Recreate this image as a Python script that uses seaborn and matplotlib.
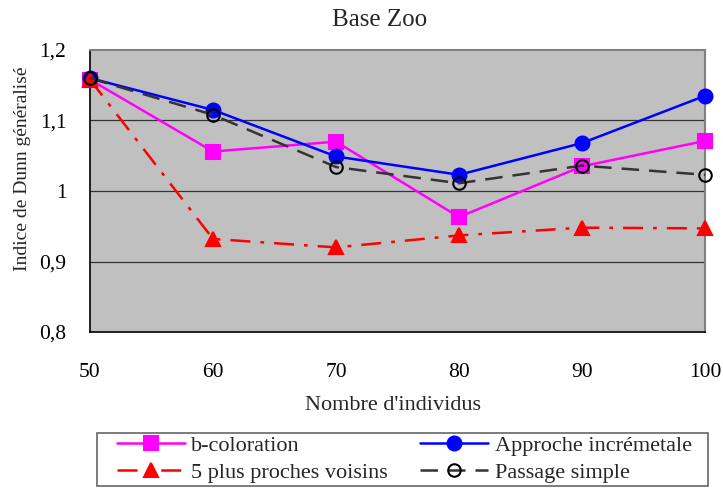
import matplotlib
matplotlib.use("Agg")
import matplotlib.pyplot as plt
from matplotlib.patches import Rectangle
import seaborn as sns
import pandas as pd

x_vals = [50, 60, 70, 80, 90, 100]
b_coloration = [1.158, 1.056, 1.070, 0.963, 1.035, 1.071]
approche = [1.160, 1.115, 1.049, 1.023, 1.068, 1.135]
plus_proches = [1.158, 0.932, 0.920, 0.937, 0.948, 0.947]
passage = [1.160, 1.108, 1.034, 1.011, 1.036, 1.023]

sns.set_theme(style="white")
plt.rcParams['font.family'] = ['Liberation Serif', 'DejaVu Serif']

W, H = 723, 488
L, R, T, B = 90, 705, 50, 332
fig = plt.figure(figsize=(7.23, 4.88), dpi=100)
ax = fig.add_axes([L / W, 1 - B / H, (R - L) / W, (B - T) / H])
ax.set_facecolor('#C0C0C0')

series = [
    ("b-coloration", b_coloration, dict(color='#FF00FF', marker='s', linestyle='-', markersize=9.5, mfc='#FF00FF', mec='#FF00FF', lw=1.8)),
    ("Approche incrémetale", approche, dict(color='#0000FF', marker='o', linestyle='-', markersize=10, mfc='#0000FF', mec='#0000FF', lw=1.8)),
    ("5 plus proches voisins", plus_proches, dict(color='#FF0000', marker='^', linestyle=(0, (8, 4, 1.5, 4)), markersize=10, mfc='#FF0000', mec='#FF0000', lw=1.8)),
    ("Passage simple", passage, dict(color='#333333', marker='o', linestyle=(0, (7, 4)), markersize=9, mfc='none', mec='black', lw=1.8)),
]

handles = {}
for name, vals, st in series:
    df = pd.DataFrame({"x": x_vals, "y": vals})
    sns.lineplot(data=df, x="x", y="y", ax=ax, color=st['color'], marker=st['marker'],
                 linestyle=st['linestyle'], markersize=st['markersize'],
                 markerfacecolor=st['mfc'], markeredgecolor=st['mec'],
                 markeredgewidth=1.5, linewidth=st['lw'], label=name, clip_on=False, zorder=3)
    handles[name] = ax.lines[-1]

ax.set_xlim(50, 100)
ax.set_ylim(0.8, 1.2)
ax.set_xticks(x_vals)
ax.set_yticks([0.8, 0.9, 1.0, 1.1, 1.2])
ax.set_yticklabels(['0,8', '0,9', '1', '1,1', '1,2'])
ax.set_xticklabels([str(v) for v in x_vals])
for y in [0.9, 1.0, 1.1]:
    ax.axhline(y, color='#333333', lw=0.9, zorder=1)
ax.tick_params(axis='both', direction='out', length=5, width=1, colors='black', labelsize=15.5)
ax.tick_params(axis='x', pad=17)
ax.tick_params(axis='y', pad=12)
for s in ['left', 'bottom']:
    ax.spines[s].set_color('black')
    ax.spines[s].set_linewidth(1.2)
for s in ['top', 'right']:
    ax.spines[s].set_color('#808080')
    ax.spines[s].set_linewidth(1.5)

ax.set_xlabel("Nombre d'individus", fontsize=16)
ax.xaxis.label.set_va('center')
ax.xaxis.set_label_coords((393 - L) / (R - L), (B - 405) / (B - T))
ax.set_ylabel("Indice de Dunn généralisé", fontsize=14)
ax.yaxis.label.set_va('center')
ax.yaxis.set_label_coords((23 - L) / (R - L), (B - 169) / (B - T))
fig.text(380 / W, 1 - 20 / H, "Base Zoo", fontsize=18, ha='center', va='center')

order = ["b-coloration", "5 plus proches voisins", "Approche incrémetale", "Passage simple"]
ax.legend([handles[n] for n in order], order, ncol=2, loc='upper left',
          bbox_to_anchor=(117 / W, 1 - 435 / H), bbox_transform=fig.transFigure,
          frameon=False, fontsize=16, borderpad=0, borderaxespad=0,
          handlelength=3.05, labelspacing=0.3, columnspacing=1.45, handletextpad=0.3)
fig.patches.append(Rectangle((97 / W, 1 - 486 / H), 611 / W, 53 / H, transform=fig.transFigure,
                             fill=False, edgecolor='#666666', linewidth=1.2))

fig.savefig("out.png", dpi=100)
